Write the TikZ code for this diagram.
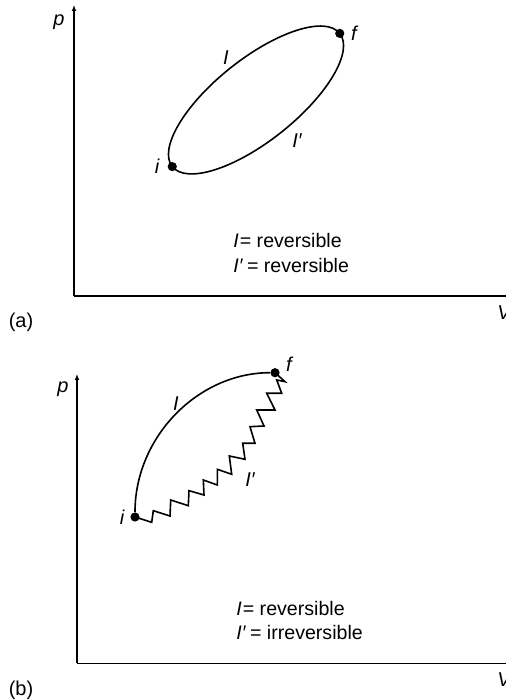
\documentclass[tikz,border=0pt]{standalone}
\usepackage{fontspec}
\setmainfont{Liberation Sans}
\usetikzlibrary{arrows.meta,positioning}
\tikzset{
  axis/.style={line width=0.6pt,-{Latex[length=3pt,width=2.4pt]}},
  curve/.style={line width=0.8pt,line join=miter},
  dot/.style={circle,fill,inner sep=0pt,minimum size=4.6pt},
  lbl/.style={font=\itshape\fontsize{10}{12}\selectfont,inner sep=0pt},
  tag/.style={font=\fontsize{10}{12}\selectfont,inner sep=0pt},
  legend/.style={font=\fontsize{9.8}{12.2}\selectfont,align=left,anchor=west,inner sep=0pt}
}

\begin{document}
\begin{tikzpicture}[x=0.5pt,y=0.5pt]
  \useasboundingbox (0,0) rectangle (506,700);

  % (a): two reversible paths
  \coordinate (oa) at (74,404);
  \coordinate (pa-end) at (74,695);
  \coordinate (va-end) at (512,404);
  \draw[axis] (oa) -- (pa-end);
  \draw[axis] (oa) -- (va-end);
  \node[lbl] (pa) at (59,678) {p};
  \node[lbl,anchor=west] (va) at (497,387) {V};
  \node[tag] (taga) at (21,378) {(a)};

  \begin{scope}[shift={(256,600)},rotate=38.5]
    \draw[curve] (0,0) ellipse [x radius=107,y radius=41];
    \node[dot] (ia) at (-107,0) {};
    \node[dot] (fa) at (107,0) {};
  \end{scope}
  \node[lbl] (ia-lbl) at (157,534) {i};
  \node[lbl] (fa-lbl) at (354,667) {f};
  \node[lbl] (Ia) at (226,642) {I};
  \node[lbl] (Ipa) at (297,559) {I′};

  \node[legend] (keya) at (233,447) {\textit{I}\kern0.5pt= reversible\\\textit{I′}\kern2pt= reversible};

  % (b): reversible vs. irreversible
  \coordinate (ob) at (77,36.7);
  \coordinate (pb-end) at (77,326);
  \coordinate (vb-end) at (512,36.7);
  \draw[axis] (ob) -- (pb-end);
  \draw[axis] (ob) -- (vb-end);
  \node[lbl] (pb) at (63,311) {p};
  \node[lbl,anchor=west] (vb) at (497,20) {V};
  \node[tag] (tagb) at (21,10) {(b)};

  \node[dot] (ib) at (135,183) {};
  \node[dot] (fb) at (275,327.3) {};
  \draw[curve] (ib) .. controls +(0,80) and +(-77,0) .. (fb);
  \draw[curve] (ib.center) -- (151.7,177.7) -- (153.3,189.3) -- (170,184) -- (170.7,200)
    -- (188.3,194.3) -- (189,209.3) -- (204,205) -- (203.3,220) -- (217.3,215)
    -- (217.3,230.7) -- (231.7,225.7) -- (229.3,244) -- (245,240.7) -- (242.7,256.7)
    -- (255,256.7) -- (250,273.3) -- (264,274) -- (256.7,290) -- (275,290)
    -- (266.7,306.7) -- (281.7,306.7) -- (276.7,320) -- (285,318.3) -- (fb.center);
  \node[lbl] (ib-lbl) at (122,183) {i};
  \node[lbl] (fb-lbl) at (289,336) {f};
  \node[lbl] (Ib) at (176,296) {I};
  \node[lbl] (Ipb) at (250,220) {I′};

  \node[legend] (keyb) at (236,79.5) {\textit{I}\kern0.5pt= reversible\\\textit{I′}\kern2pt= irreversible};
\end{tikzpicture}
\end{document}
